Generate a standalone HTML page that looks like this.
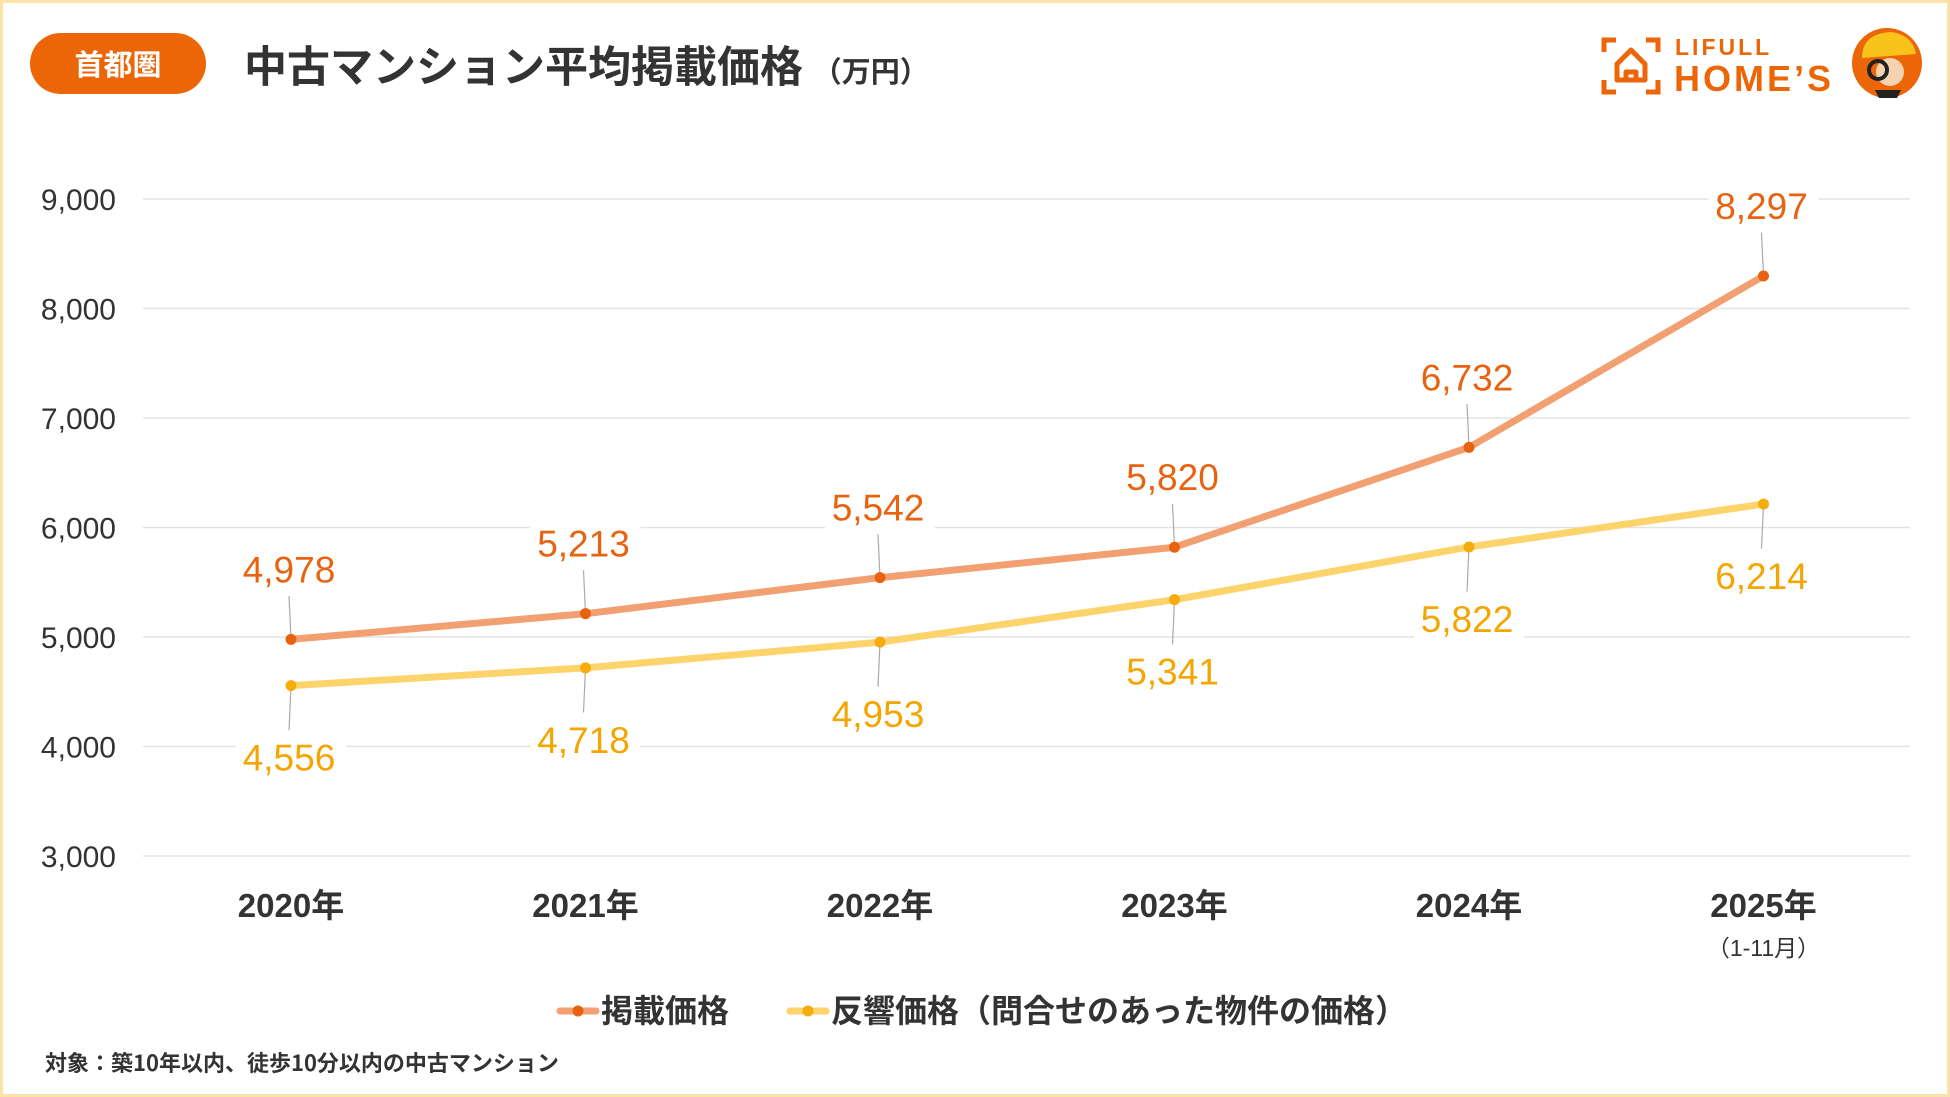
<!DOCTYPE html>
<html><head><meta charset="utf-8">
<style>
html,body{margin:0;padding:0;}
body{width:1950px;height:1097px;overflow:hidden;background:#fff;font-family:"Liberation Sans","Noto Sans CJK JP",sans-serif;}
#frame{position:absolute;left:0;top:0;width:1944px;height:1091px;border:3px solid #fbe2a6;}
#badge{position:absolute;left:30px;top:33px;width:176px;height:61px;border-radius:31px;background:#ec6608;color:#fff;font-size:29px;font-weight:bold;text-align:center;line-height:61px;font-family:"Noto Sans CJK JP",sans-serif;}
#title{position:absolute;left:244px;top:36px;font-size:43px;font-weight:bold;color:#333;font-family:"Noto Sans CJK JP",sans-serif;line-height:56px;white-space:nowrap;}
#title span{font-size:29px;font-weight:bold;}
svg{position:absolute;left:0;top:0;}
</style></head><body>
<div id="frame"></div>
<div id="badge">首都圏</div>
<div id="title">中古マンション平均掲載価格 <span>（万円）</span></div>
<svg width="1950" height="1097" id="chart">
 <g>
  <path d="M1604 52v-12h12 M1646 40h12v12 M1604 80v12h12 M1646 92h12v-12" stroke="#ec6608" stroke-width="5" fill="none"/>
  <path d="M1617 80v-16l14-14 14 14v16z M1626 80v-8h10v8" stroke="#ec6608" stroke-width="5" fill="none" stroke-linejoin="round"/>
  <text x="1675" y="55" font-size="23" font-weight="bold" fill="#ec6608" letter-spacing="3" font-family="Liberation Sans,sans-serif">LIFULL</text>
  <text x="1674" y="91" font-size="36" font-weight="bold" fill="#ec6608" letter-spacing="3" font-family="Liberation Sans,sans-serif">HOME’S</text>
  <circle cx="1887" cy="63" r="35" fill="#ec6608"/>
  <path d="M1862 58q0-24 28-26q22 2 26 22z" fill="#f9c31c"/>
  <circle cx="1890" cy="72" r="14" fill="#f5d3b0"/>
  <circle cx="1878" cy="70" r="9" fill="none" stroke="#222" stroke-width="4"/>
  <path d="M1875 90h26l-4 8h-18z" fill="#222"/>
 </g>
</svg>
<script>
const categories=["2020年","2021年","2022年","2023年","2024年","2025年"];
const listedPrice=[4978,5213,5542,5820,6732,8297];
const inquiryPrice=[4556,4718,4953,5341,5822,6214];
const yTicks=[3000,4000,5000,6000,7000,8000,9000];
const X0=143,X1=1910,Y3000=856,Y9000=199;
const xs=i=>291+i*294.5;
const ys=v=>Y3000-(v-3000)*(Y3000-Y9000)/6000;
const svg=document.getElementById('chart');
const NS='http://www.w3.org/2000/svg';
function mk(tag,attrs,parent){const e=document.createElementNS(NS,tag);for(const k in attrs)e.setAttribute(k,attrs[k]);(parent||svg).appendChild(e);return e;}
const fmt=v=>v.toLocaleString('en-US');
yTicks.forEach(t=>{
 const l=mk('line',{x1:X0,x2:X1,y1:ys(t),y2:ys(t),stroke:'#e3e3e3','stroke-width':1.5});
 
 
 const tx=mk('text',{x:116,y:ys(t)+11,'text-anchor':'end','font-size':30,fill:'#333','font-family':'Liberation Sans,sans-serif'});
 tx.textContent=fmt(t);
 
 
});
categories.forEach((c,i)=>{
 const tx=mk('text',{x:xs(i),y:917,'text-anchor':'middle','font-size':33,'font-weight':'bold',fill:'#333','font-family':'Liberation Sans,Noto Sans CJK JP,sans-serif'});
 tx.textContent=c;
 
 
});
const sub=mk('text',{x:xs(5),y:956,'text-anchor':'middle','font-size':23,fill:'#333','font-family':'Liberation Sans,Noto Sans CJK JP,sans-serif'});
sub.textContent='（1-11月）';


function series(vals,lineCol,dotCol,txtCol,off,name){
 const g=mk('g',{});
 
 
 vals.forEach((v,i)=>{
  mk('line',{x1:xs(i),x2:xs(i)-2,y1:ys(v),y2:ys(v)+off*0.62,stroke:'#aaa','stroke-width':1.2},g);
 });
 const p=mk('polyline',{points:vals.map((v,i)=>xs(i)+','+ys(v)).join(' '),fill:'none',stroke:lineCol,'stroke-width':7,'stroke-linejoin':'round','stroke-linecap':'round'},g);
 
 
 vals.forEach((v,i)=>{
  const d=mk('circle',{cx:xs(i),cy:ys(v),r:5.5,fill:dotCol},g);
  
  
  mk('rect',{x:xs(i)-55,y:ys(v)+off-22,width:110,height:44,fill:'#fff'},g);
  const t=mk('text',{x:xs(i)-2,y:ys(v)+off+13,'text-anchor':'middle','font-size':37,fill:txtCol,'font-family':'Liberation Sans,sans-serif'},g);
  t.textContent=fmt(v);
  
  
 });
}
series(inquiryPrice,'#fdd36c','#f6ac0c','#f5a500',72,'inquiry-price');
series(listedPrice,'#f2a072','#e8620f','#e8620f',-70,'listed-price');
const lg=mk('g',{});


const e1=mk('g',{},lg);


mk('line',{x1:560,x2:596,y1:1011,y2:1011,stroke:'#f2a072','stroke-width':7,'stroke-linecap':'round'},e1);
mk('circle',{cx:578,cy:1011,r:5.5,fill:'#e8620f'},e1);
const l1=mk('text',{x:601,y:1022,'font-size':32,'font-weight':'bold',fill:'#333','font-family':'Noto Sans CJK JP,sans-serif'},e1);l1.textContent='掲載価格';
const e2=mk('g',{},lg);


mk('line',{x1:790,x2:826,y1:1011,y2:1011,stroke:'#fdd36c','stroke-width':7,'stroke-linecap':'round'},e2);
mk('circle',{cx:808,cy:1011,r:5.5,fill:'#f6ac0c'},e2);
const l2=mk('text',{x:831,y:1022,'font-size':32,'font-weight':'bold',fill:'#333','font-family':'Noto Sans CJK JP,sans-serif'},e2);l2.textContent='反響価格（問合せのあった物件の価格）';
const fn=mk('text',{x:45,y:1071,'font-size':22,'font-weight':'bold',fill:'#333','font-family':'Noto Sans CJK JP,sans-serif'});
fn.textContent='対象：築10年以内、徒歩10分以内の中古マンション';


</script>
</body></html>
